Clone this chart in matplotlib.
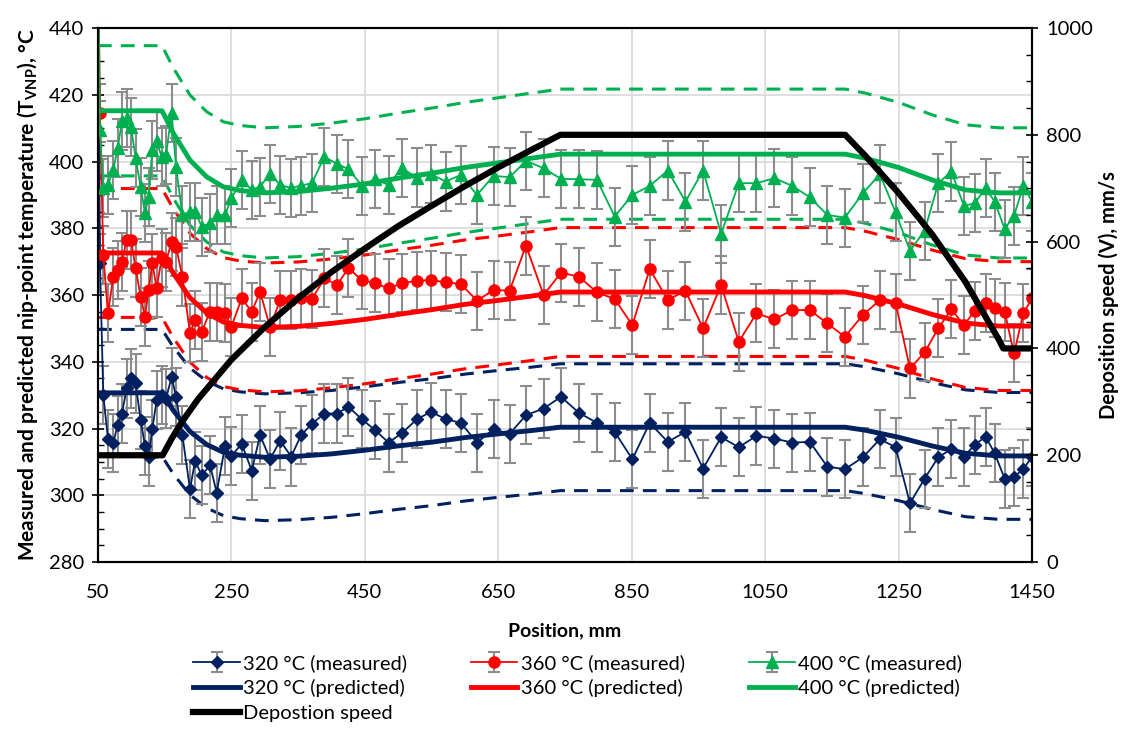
import matplotlib
matplotlib.use("Agg")
from matplotlib import pyplot as plt
from matplotlib.ticker import MultipleLocator

plt.rcParams['font.family'] = ['Lato', 'DejaVu Sans']
plt.rcParams['mathtext.fontset'] = 'custom'
plt.rcParams['mathtext.rm'] = 'Lato'
plt.rcParams['mathtext.bf'] = 'Lato:bold'

# measured positions (mm), shared by the three series
pos = [50, 53, 58, 65, 73, 79.5, 86, 93, 99.5, 106.5, 114, 120.5, 126, 131.5, 138,
       145.5, 152, 160.5, 167, 176.5, 188, 195.5, 205.5, 218, 228, 240.5, 250,
       265.5, 280.5, 293, 308, 323, 339.5, 354.5, 370.5, 389.5, 408, 425.5, 445.5,
       465.5, 485.5, 505.5, 528, 549, 571.5, 594, 618, 643, 667, 691.5, 718, 744,
       771, 798, 824.5, 851, 877, 904, 930.5, 957, 984, 1010.5, 1037, 1064, 1090.5,
       1117, 1143, 1169.5, 1196.5, 1222, 1245.5, 1267, 1289, 1309.5, 1329, 1348,
       1364, 1380.5, 1394, 1409, 1423, 1437, 1450]

t320_meas = [470, 369.5, 330, 317, 315.8, 321, 324.5, 332, 335, 333.5, 322.5, 314.8,
             311.5, 320, 328.5, 330, 329, 335.5, 329.5, 318, 301.8, 310.3, 306, 309,
             300.8, 314.8, 311.8, 315.4, 307.4, 318, 310.8, 316.4, 311.6, 318, 321.4,
             324.5, 324.5, 326.5, 322.8, 319.5, 315.8, 318.6, 322.8, 325, 322.8, 321.7,
             315.8, 319.8, 318.4, 324, 326, 329.5, 324.7, 321.7, 319, 310.8, 321.7,
             316, 319, 308, 317.4, 314.4, 317.8, 317, 315.8, 316, 308.6, 307.8, 311.4,
             316.8, 314.4, 297.6, 305, 311.4, 313.8, 311.6, 315.1, 317.6, 312.6, 305,
             305.6, 307.8, 311.6]

t360_meas = [470, 414.6, 372, 354.5, 365.5, 367.5, 370, 376.5, 376.5, 368, 359.5, 353.5,
             361.5, 369.5, 362, 371, 370, 376, 374.5, 365.5, 348.5, 352.5, 349, 355,
             355, 354.5, 350.5, 359, 355, 361, 350.3, 358.5, 358.5, 359, 358.7, 365,
             363, 368, 364.5, 363.5, 362, 363.5, 364.3, 364.5, 363.8, 363.3, 358.3,
             361.5, 361.3, 374.8, 360, 366.7, 365.5, 360.8, 358.8, 351, 367.8, 358.5,
             361.3, 350, 363, 346, 354.5, 352.7, 355.5, 355.5, 351.5, 347.5, 354,
             358.5, 357.7, 338, 342.8, 350, 355.7, 351, 355.2, 357.7, 356, 355, 342.5,
             354.5, 359]

t400_meas = [470, 409.4, 392, 393, 397.5, 404, 412, 413, 410.4, 401, 392.4, 384.5,
             389.5, 403.4, 406, 401.4, 402, 414.4, 398.4, 384, 385, 385, 380.5, 381.5,
             384, 384, 389, 394.5, 391.5, 392.5, 396.3, 393, 392, 392.8, 393.5, 401.4,
             399.3, 397.7, 392.8, 394.7, 393, 398, 395.2, 396.2, 394, 396, 390, 395.7,
             395.3, 400.2, 398, 394.8, 394.7, 394.5, 383.5, 390, 392.7, 397.3, 388,
             397.3, 378.3, 393.5, 393.5, 395, 392.7, 389.3, 384, 383.2, 390.5, 396.2,
             384.8, 373.3, 379.2, 393.5, 397, 386.7, 387.5, 392, 388, 379.8, 383.7,
             392.7, 388]

err_meas = 8.7  # half-width of the grey error bars, °C

# predicted curves
pred_pos = [50, 146, 163, 188, 213, 238, 263, 300, 350, 400, 450, 500, 550, 600, 650,
            700, 743, 1170, 1200, 1250, 1300, 1350, 1400, 1450]
t320_pred = [330.7, 330.7, 325.4, 319.1, 315.2, 312.9, 312, 311.4, 311.7, 312.4, 313.5,
             314.8, 315.9, 317.3, 318.4, 319.4, 320.4, 320.4, 319.5, 317.4, 314.8,
             312.6, 311.8, 311.8]
t360_pred = [372.6, 372.6, 366.5, 359.2, 354.6, 351.9, 350.9, 350.3, 350.6, 351.5, 352.7,
             354.2, 355.6, 357.2, 358.4, 359.7, 360.9, 360.9, 359.8, 357.3, 354.2,
             351.6, 350.7, 350.7]
t400_pred = [415.2, 415.2, 408.5, 400.4, 395.4, 392.4, 391.3, 390.6, 391, 392, 393.3,
             395, 396.5, 398.2, 399.6, 401, 402.2, 402.2, 401, 398.2, 394.5, 391.5,
             390.6, 390.6]
# half-width of the dashed prediction bands
band_320 = 19.0
band_360 = 19.3
band_400 = 19.5

# deposition speed
speed_pos = [50, 147, 160, 175, 200, 250, 300, 350, 400, 450, 500, 550, 600, 650, 700,
             743, 1170, 1200, 1250, 1300, 1350, 1400, 1407, 1450]
speed = [200, 200, 230, 261, 305, 379, 440, 494, 543, 587, 629, 667, 704, 739, 772,
         800, 800, 761, 691, 614, 525, 417, 400, 400]

navy = '#002060'
red = '#FF0000'
green = '#00B050'
grey = '#8C8C8C'

fig = plt.figure(figsize=(11.22, 7.29), dpi=100)
ax = fig.add_axes([0.0873, 0.229, 0.9198 - 0.0873, 0.9616 - 0.229])

series = [
    (t320_meas, t320_pred, band_320, navy, 'D', 6.5, '320 °C'),
    (t360_meas, t360_pred, band_360, red, 'o', 8, '360 °C'),
    (t400_meas, t400_pred, band_400, green, '^', 8, '400 °C'),
]

meas_handles = []
pred_handles = []
for meas, pred, band, col, mk, ms, name in series:
    h = ax.errorbar(pos, meas, yerr=err_meas, color=col, lw=1.3, marker=mk, ms=ms,
                    ecolor=grey, elinewidth=1.5, capsize=4, capthick=1.5,
                    label=name + ' (measured)', zorder=3)
    meas_handles.append(h)

for meas, pred, band, col, mk, ms, name in series:
    hi = [p + band for p in pred]
    lo = [p - band for p in pred]
    ax.plot(pred_pos, hi, color=col, lw=2.2, ls=(0, (4.5, 3)), zorder=2)
    ax.plot(pred_pos, lo, color=col, lw=2.2, ls=(0, (4.5, 3)), zorder=2)
    p, = ax.plot(pred_pos, pred, color=col, lw=3.5, label=name + ' (predicted)', zorder=4)
    pred_handles.append(p)

ax.set_xlim(50, 1450)
ax.set_ylim(280, 440)
ax.set_xticks(range(50, 1451, 200))
ax.yaxis.set_major_locator(MultipleLocator(20))
ax.yaxis.set_minor_locator(MultipleLocator(5))
ax.grid(True, color='#D9D9D9', lw=1.2)
ax.set_axisbelow(True)
ax.tick_params(axis='both', which='major', labelsize=14.5, direction='inout', length=8, width=1.2)
ax.tick_params(axis='y', which='minor', direction='in', length=4, width=1)
ax.tick_params(axis='x', which='major', length=0, pad=16)
ax.tick_params(axis='y', which='major', pad=6)
for s in ax.spines.values():
    s.set_linewidth(1.5)

ax.set_xlabel('Position, mm', fontsize=14, fontweight='bold', labelpad=15)
ax.set_ylabel(r'Measured and predicted nip-point temperature (T$_\mathregular{VNP}$), °C',
              fontsize=15, fontweight='bold', labelpad=6)

ax2 = ax.twinx()
sp, = ax2.plot(speed_pos, speed, color='black', lw=4.5, label='Depostion speed', zorder=5)
ax2.set_ylim(0, 1000)
ax2.yaxis.set_major_locator(MultipleLocator(200))
ax2.yaxis.set_minor_locator(MultipleLocator(50))
ax2.tick_params(axis='y', which='major', labelsize=14.5, direction='inout', length=8, width=1.2, pad=6)
ax2.tick_params(axis='y', which='minor', direction='in', length=4, width=1)
ax2.set_ylabel('Deposition speed (V), mm/s', fontsize=14.5, fontweight='bold', labelpad=4)
for s in ax2.spines.values():
    s.set_linewidth(1.5)

handles = [meas_handles[0], pred_handles[0], sp,
           meas_handles[1], pred_handles[1],
           meas_handles[2], pred_handles[2]]
leg = fig.legend(handles=handles, loc='upper center', bbox_to_anchor=(0.515, 0.128),
                 ncol=3, frameon=False, fontsize=14.5, handlelength=2.3, handletextpad=0.15,
                 columnspacing=3.2, labelspacing=0.38)

fig.savefig('out.png', dpi=100)
